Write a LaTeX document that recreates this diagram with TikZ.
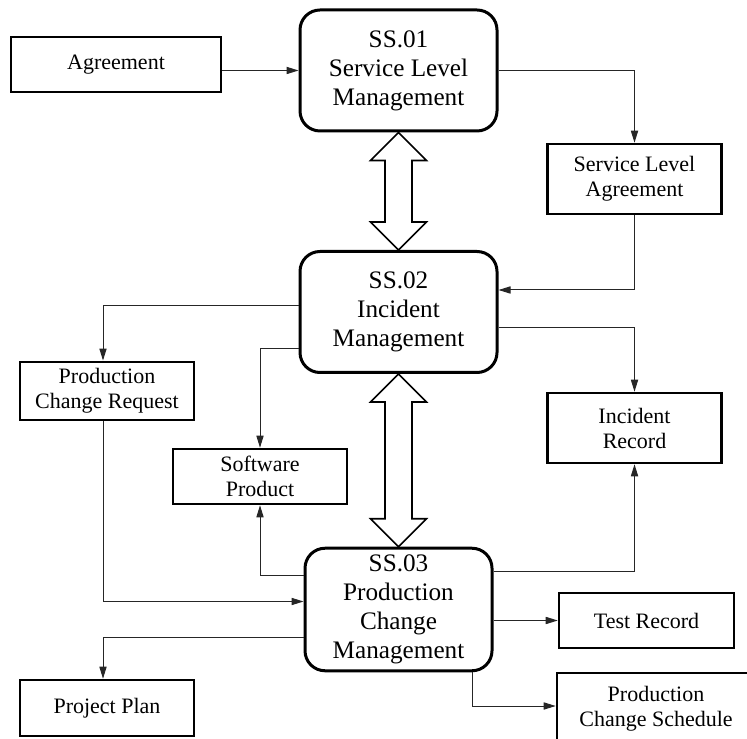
\documentclass[tikz,border=0pt]{standalone}
\usepackage{fontspec}
\setmainfont{Liberation Serif}
\usetikzlibrary{arrows.meta, calc}

\tikzset{
  process/.style={draw, line width=1.5pt, rounded corners=10pt, align=center,
    font=\fontsize{12.6}{14.5}\selectfont, minimum width=98.5pt, minimum height=60.5pt},
  store/.style={draw, line width=1.3pt, align=center,
    font=\fontsize{11}{12.5}\selectfont, minimum width=87pt, minimum height=27.5pt},
  flow/.style={draw=black!85, line width=0.5pt, -{Triangle[length=6pt,width=3.6pt]}},
  fat/.style={draw, line width=0.8pt, fill=white}
}

% hollow double arrow between two anchors
\newcommand{\fatarrow}[2]{%
  \draw[fat] let \p1=(#1), \p2=(#2) in
    (\x1,\y1) -- (\x1-14pt,\y1-14pt) -- (\x1-6.75pt,\y1-14pt) -- (\x1-6.75pt,\y2+14pt)
    -- (\x1-14pt,\y2+14pt) -- (\x1,\y2) -- (\x1+14pt,\y2+14pt) -- (\x1+6.75pt,\y2+14pt)
    -- (\x1+6.75pt,\y1-14pt) -- (\x1+14pt,\y1-14pt) -- cycle;}

\begin{document}
\begin{tikzpicture}[x=0.5pt, y=0.5pt]
    \useasboundingbox (0,0) rectangle (747,738);
    \clip (0,0) rectangle (747,738);
    % processes
    \node[process] (ss01) at (398.5,667.5) {SS.01\\Service Level\\Management};
    \node[process] (ss02) at (398.5,426) {SS.02\\Incident\\Management};
    \node[process, minimum width=93.5pt] (ss03) at (398.5,128.5) {SS.03\\Production\\Change\\Management};
    % documents
    \node[store, minimum width=105pt] (agree) at (116,673.5) {Agreement};
    \node[store, minimum height=35pt] (sla) at (634.5,559) {Service Level\\Agreement};
    \node[store, minimum height=28pt] (pcr) at (107,347) {Production\\Change Request};
    \node[store, minimum height=35pt] (ir) at (634.5,310) {Incident\\Record};
    \node[store] (swp) at (260,261.5) {Software\\Product};
    \node[store, minimum width=87.5pt] (test) at (646.5,117.5) {Test Record};
    \node[store, minimum height=28pt] (pp) at (107,30) {Project Plan};
    \node[store, minimum width=99pt, minimum height=36pt] (pcs) at (656,29) {Production\\Change Schedule};
    % double arrows
    \fatarrow{ss01.south}{ss02.north}
    \fatarrow{ss02.south}{ss03.north}
    % flows
    \draw[flow] (agree.east |- ss01.west) -- (ss01.west);
    \draw[flow] (ss01.east) -| (sla.north);
    \draw[flow] (sla.south) |- ([yshift=11pt]ss02.east);
    \draw[flow] ([yshift=3pt]ss02.west) -| ([xshift=-2pt]pcr.north);
    \draw[flow] ([yshift=-18.5pt]ss02.west) -| (swp.north);
    \draw[flow] ([yshift=-8pt]ss02.east) -| (ir.north);
    \draw[flow] ([yshift=17pt]ss03.west) -| (swp.south);
    \draw[flow] ([yshift=19pt]ss03.east) -| (ir.south);
    \draw[flow] ([xshift=-2pt]pcr.south) |- ([yshift=4pt]ss03.west);
    \draw[flow] (ss03.east |- test.west) -- (test.west);
    \draw[flow] ([yshift=-14pt]ss03.west) -| ([xshift=-2pt]pp.north);
    \draw[flow] ([xshift=37pt]ss03.south) |- ([yshift=1.5pt]pcs.west);
\end{tikzpicture}
\end{document}
